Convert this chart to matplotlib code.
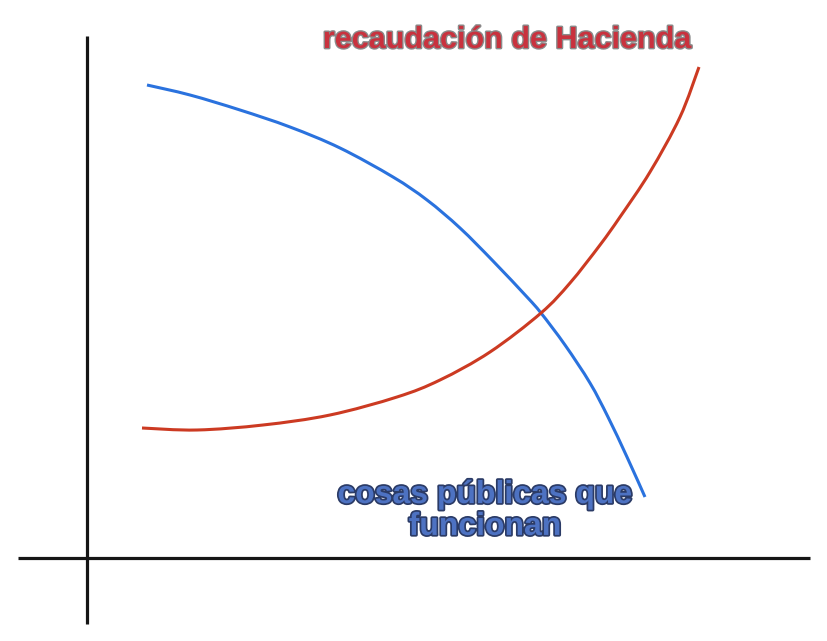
import matplotlib.pyplot as plt
import matplotlib.patheffects as pe
from matplotlib.path import Path
from matplotlib.patches import PathPatch

blue_x = [147, 190, 240, 290, 340, 393, 427, 460, 493, 527, 541, 565, 590, 608, 627, 645]
blue_y = [85, 95, 110, 127, 148, 177, 200, 228, 261, 297, 313, 345, 383, 417, 457, 497]

red_x = [142, 197, 263, 330, 397, 440, 490, 541, 570, 600, 620, 650, 680, 699]
red_y = [428, 430, 425, 415, 397, 380, 352, 313, 283, 245, 217, 172, 117, 67]

# hand drawn axes
yaxis_x = [87, 87]
yaxis_y = [36, 624]
xaxis_x = [18, 810]
xaxis_y = [558, 558]

label_red = "recaudación de Hacienda"
label_blue = "cosas públicas que\nfuncionan"


def smooth_path(xs, ys):
    # catmull-rom through the points, written as cubic bezier segments
    pts = list(zip(xs, ys))
    verts = [pts[0]]
    codes = [Path.MOVETO]
    for i in range(len(pts) - 1):
        p0 = pts[i - 1] if i > 0 else pts[i]
        p1 = pts[i]
        p2 = pts[i + 1]
        p3 = pts[i + 2] if i + 2 < len(pts) else pts[i + 1]
        c1 = (p1[0] + (p2[0] - p0[0]) / 6, p1[1] + (p2[1] - p0[1]) / 6)
        c2 = (p2[0] - (p3[0] - p1[0]) / 6, p2[1] - (p3[1] - p1[1]) / 6)
        verts += [c1, c2, p2]
        codes += [Path.CURVE4] * 3
    return Path(verts, codes)


fig = plt.figure(figsize=(8.27, 6.41), dpi=100)
ax = fig.add_axes([0, 0, 1, 1])
ax.set_xlim(0, 827)
ax.set_ylim(641, 0)
ax.axis('off')

ax.plot(yaxis_x, yaxis_y, color='#151515', lw=2.3, solid_capstyle='butt')
ax.plot(xaxis_x, xaxis_y, color='#151515', lw=2.3, solid_capstyle='butt')

ax.add_patch(PathPatch(smooth_path(blue_x, blue_y), fill=False,
                       edgecolor='#2a72de', lw=2.2))
ax.add_patch(PathPatch(smooth_path(red_x, red_y), fill=False,
                       edgecolor='#cc3a22', lw=2.2))

ax.text(507, 40, label_red, ha='center', va='center', fontsize=22,
        family='Liberation Sans', weight='bold', color='#c9323e',
        path_effects=[pe.withStroke(linewidth=2, foreground='#8a8a8a')])
ax.text(485, 511, label_blue, ha='center', va='center', fontsize=23,
        family='Liberation Sans', weight='bold', color='#4d72c2',
        linespacing=1.08,
        path_effects=[pe.withStroke(linewidth=2.5, foreground='#2b3b66')])

fig.savefig('out.png', dpi=100)
